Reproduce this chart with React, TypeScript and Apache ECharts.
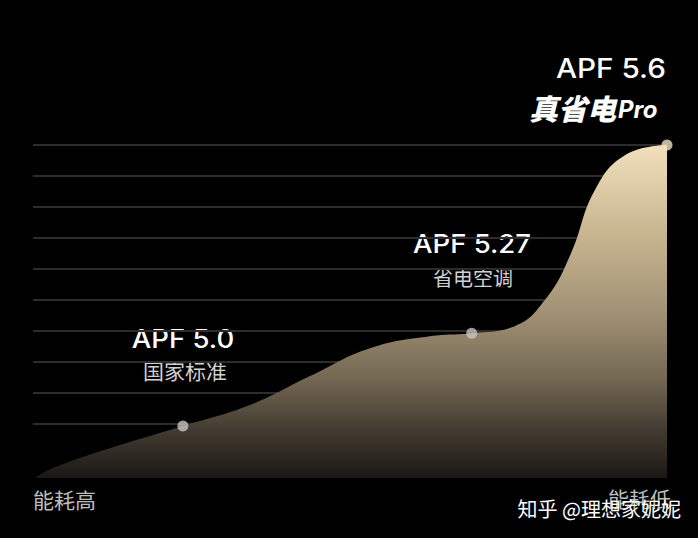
import React, { useEffect, useRef } from "react";
import * as echarts from "echarts";

// Curve: horizontal position (0..100) and relative height (0..100)
const curveX = [0, 2.4, 10.3, 23.4, 34.0, 43.5, 53.0, 62.5, 69.1, 75.9, 80.7, 84.7, 88.6, 93.4, 100];
const curveY = [0, 2.6, 8.0, 15.6, 21.9, 30.6, 39.0, 42.6, 43.5, 45.6, 53.5, 67.0, 86.5, 97.0, 100];

// Highlighted points
const pointX = [23.4, 69.1, 100];
const pointY = [15.6, 43.5, 100];
const pointColors = ["#c4c4c4", "#c4c4c4", "#efe2c6"];
const apfLabels = ["APF 5.0", "APF 5.27", "APF 5.6"];
const subLabels = ["国家标准", "省电空调", "真省电"];

const leftLabel = "能耗高";
const rightLabel = "能耗低";
const watermark = "知乎 @理想家妮妮";

// horizontal guide lines count
const guideMin = 0;
const guideMax = 9;

export default function App() {
  const ref = useRef<HTMLDivElement>(null);
  useEffect(() => {
    if (!ref.current) return;
    const chart = echarts.init(ref.current, undefined, { renderer: "svg" });
    const latin = "Inter, 'Noto Sans', sans-serif";
    const cjk = "'Noto Sans CJK SC', sans-serif";
    chart.setOption({
      animation: false,
      backgroundColor: "#000",
      grid: [
        { left: 33, right: 31, top: 145, bottom: 114 },
        { left: 35, right: 31, top: 145, bottom: 60 },
      ],
      xAxis: [
        { gridIndex: 0, type: "value", min: 0, max: 100, show: false },
        { gridIndex: 1, type: "value", min: 0, max: 100, show: false },
      ],
      yAxis: [
        {
          gridIndex: 0,
          type: "value",
          min: guideMin,
          max: guideMax,
          interval: 1,
          axisLine: { show: false },
          axisTick: { show: false },
          axisLabel: { show: false },
          splitLine: { show: true, lineStyle: { color: "#2c2c2c", width: 2 } },
        },
        { gridIndex: 1, type: "value", min: 0, max: 100, show: false },
      ],
      series: [
        {
          type: "line",
          xAxisIndex: 1,
          yAxisIndex: 1,
          smooth: 0.45,
          symbol: "none",
          data: curveX.map((x, i) => [x, curveY[i]]),
          lineStyle: { width: 0 },
          areaStyle: {
            opacity: 1,
            color: new echarts.graphic.LinearGradient(0, 0, 0, 1, [
              { offset: 0, color: "#f2e0bd" },
              { offset: 0.25, color: "#cbb893" },
              { offset: 0.5, color: "#a29275" },
              { offset: 0.7, color: "#746853" },
              { offset: 0.85, color: "#453d33" },
              { offset: 1, color: "#1a1714" },
            ]),
          },
          z: 2,
        },
        {
          type: "scatter",
          xAxisIndex: 1,
          yAxisIndex: 1,
          symbolSize: 11,
          data: pointX.map((x, i) => ({
            value: [x, pointY[i]],
            itemStyle: { color: pointColors[i] },
          })),
          z: 5,
        },
      ],
      graphic: [
        {
          type: "text",
          x: 183,
          y: 339,
          scaleX: 1.1,
          style: { text: apfLabels[0], fill: "#fff", font: `500 25px ${latin}`, textAlign: "center", textVerticalAlign: "middle" },
        },
        {
          type: "text",
          x: 185,
          y: 370,
          style: { text: subLabels[0], fill: "#d0d0d0", font: `400 21px ${cjk}`, textAlign: "center", textVerticalAlign: "middle" },
        },
        {
          type: "text",
          x: 472,
          y: 244,
          scaleX: 1.1,
          style: { text: apfLabels[1], fill: "#fff", font: `500 25px ${latin}`, textAlign: "center", textVerticalAlign: "middle" },
        },
        {
          type: "text",
          x: 473,
          y: 277,
          style: { text: subLabels[1], fill: "#d0d0d0", font: `400 20px ${cjk}`, textAlign: "center", textVerticalAlign: "middle" },
        },
        {
          type: "text",
          x: 666,
          y: 68,
          scaleX: 1.1,
          style: { text: apfLabels[2], fill: "#fff", font: `500 27px ${latin}`, textAlign: "right", textVerticalAlign: "middle" },
        },
        {
          type: "text",
          x: 529,
          y: 107,
          style: {
            text: `{a|${subLabels[2]}}{b|Pro}`,
            textAlign: "left",
            textVerticalAlign: "middle",
            rich: {
              a: { fill: "#fff", font: `italic 900 29px ${cjk}` },
              b: { fill: "#fff", font: `italic 700 24px ${latin}`, padding: [4, 0, 0, 2] },
            },
          },
        },
        {
          type: "text",
          x: 33,
          y: 499,
          style: { text: leftLabel, fill: "#bdbdbd", font: `400 21px ${cjk}`, textAlign: "left", textVerticalAlign: "middle" },
        },
        {
          type: "text",
          x: 671,
          y: 498,
          style: { text: rightLabel, fill: "#bdbdbd", font: `400 21px ${cjk}`, textAlign: "right", textVerticalAlign: "middle" },
        },
        {
          type: "text",
          x: 681,
          y: 508,
          style: { text: watermark, fill: "#ffffff", font: `400 20px ${cjk}`, textAlign: "right", textVerticalAlign: "middle" },
        },
      ],
    });
    return () => chart.dispose();
  }, []);
  return (
    <div
      ref={ref}
      style={{ position: "fixed", left: 0, top: 0, width: 698, height: 538, background: "#000" }}
    />
  );
}
